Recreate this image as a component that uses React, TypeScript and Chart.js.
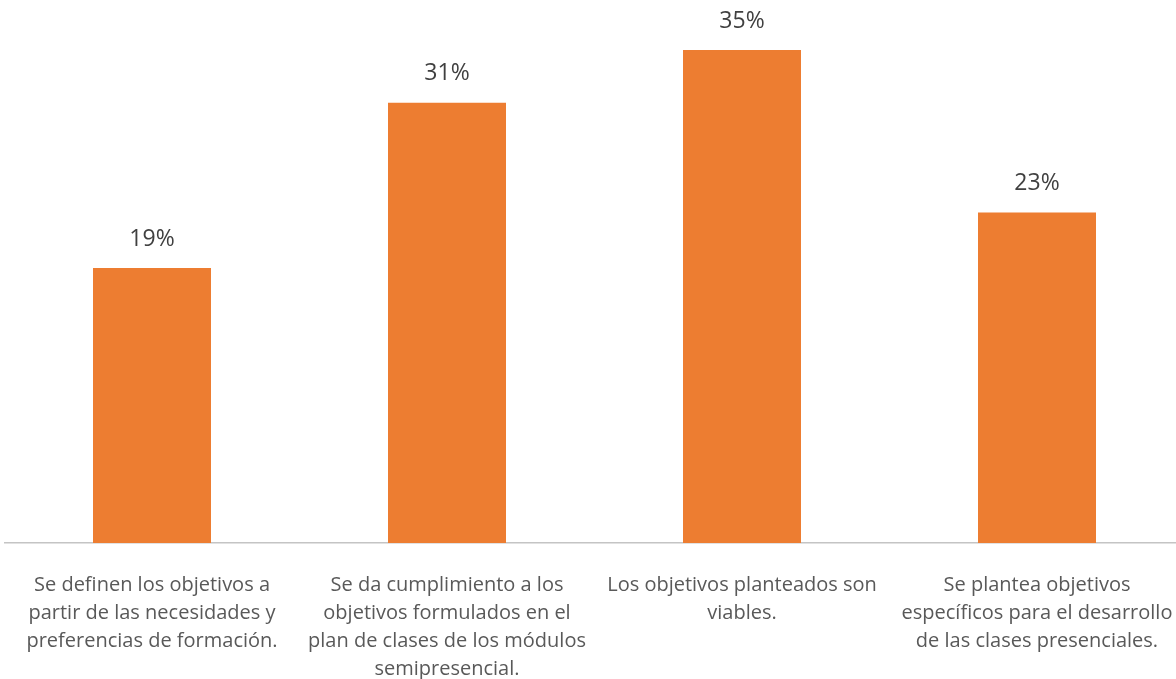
import React, { useEffect, useRef } from "react";
import { Chart, registerables } from "chart.js";

Chart.register(...registerables);

const categories: string[][] = [
  ["Se definen los objetivos a", "partir de las necesidades y", "preferencias de formación."],
  ["Se da cumplimiento a los", "objetivos formulados en el", "plan de clases de los módulos", "semipresencial."],
  ["Los objetivos planteados son", "viables."],
  ["Se plantea objetivos", "específicos para el desarrollo", "de las clases presenciales."],
];
const values: number[] = [19.3, 30.9, 34.6, 23.2];

const FONT = "'Open Sans', sans-serif";

const labelPlugin = {
  id: "barLabels",
  afterDatasetsDraw(chart: any) {
    const ctx = chart.ctx;
    const meta = chart.getDatasetMeta(0);
    ctx.save();
    ctx.fillStyle = "#404040";
    ctx.font = `23px ${FONT}`;
    ctx.textAlign = "center";
    ctx.textBaseline = "middle";
    meta.data.forEach((bar: any, i: number) => {
      ctx.fillText(Math.round(values[i]) + "%", bar.x, bar.y - 29);
    });
    ctx.restore();
  },
};

export default function App() {
  const ref = useRef<HTMLCanvasElement>(null);
  useEffect(() => {
    if (!ref.current) return;
    const chart = new Chart(ref.current, {
      type: "bar",
      data: {
        labels: categories,
        datasets: [
          {
            data: values,
            backgroundColor: "#ED7D31",
            barPercentage: 0.4,
            categoryPercentage: 1,
          },
        ],
      },
      options: {
        animation: false,
        responsive: false,
        layout: { padding: { left: 4.5, right: 5.5, top: 0, bottom: 0 } },
        plugins: { legend: { display: false }, tooltip: { enabled: false } },
        scales: {
          x: {
            grid: { display: false },
            border: { display: true, color: "#C4C4C4", width: 1.5 },
            ticks: {
              color: "#595959",
              font: { family: FONT, size: 20, lineHeight: 1.4 },
              padding: 20,
              maxRotation: 0,
              autoSkip: false,
            },
            afterFit: (scale: any) => {
              scale.height = 136;
              scale.paddingLeft = 0;
              scale.paddingRight = 0;
            },
          },
          y: {
            display: false,
            min: 0,
            max: 38.11,
          },
        },
      },
      plugins: [labelPlugin],
    });
    return () => chart.destroy();
  }, []);
  return (
    <div style={{ position: "fixed", left: 0, top: 0, width: 1176, height: 679, overflow: "hidden", background: "#fff" }}>
      <canvas ref={ref} width={1190} height={679} style={{ display: "block", width: 1190, height: 679 }} />
    </div>
  );
}
